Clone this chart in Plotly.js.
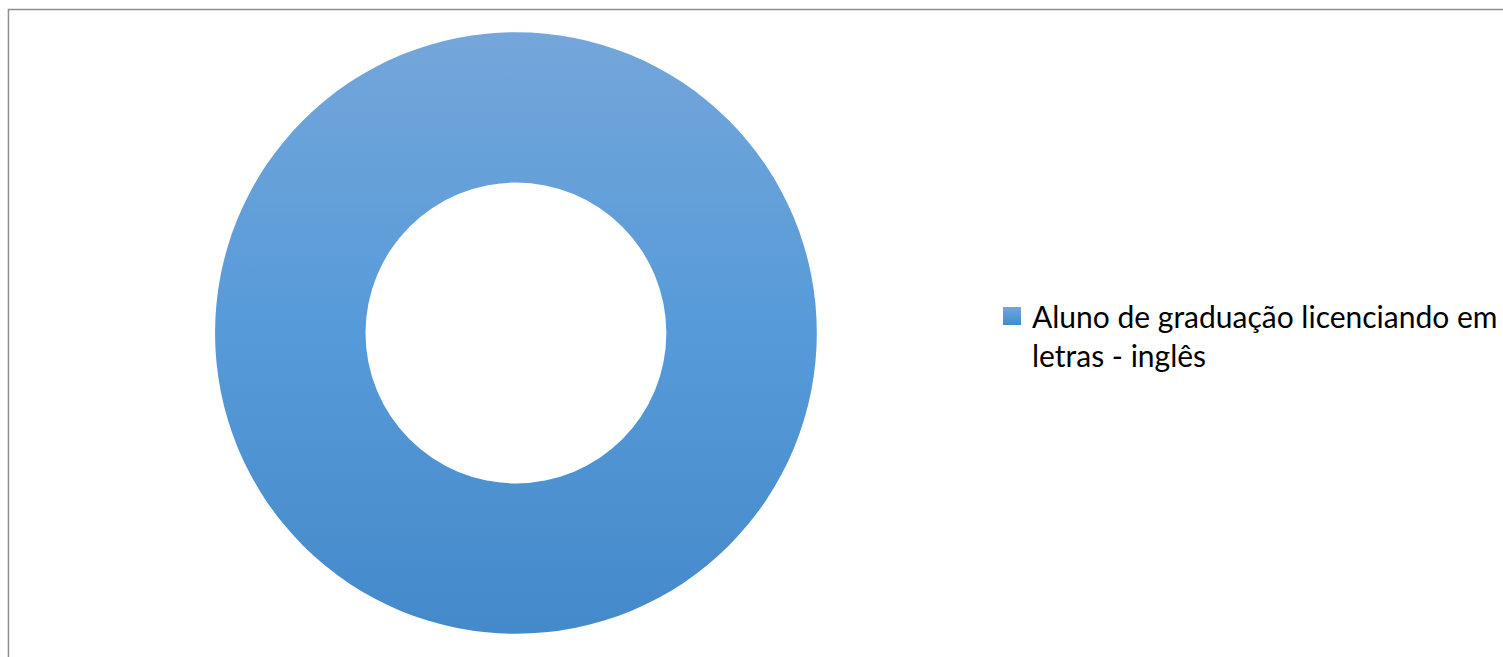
<!DOCTYPE html>
<html>
<head>
<meta charset="utf-8">
<script src="https://cdn.plot.ly/plotly-3.0.1.min.js"></script>
<style>
html,body{margin:0;padding:0;background:#fff;}
#chart{width:1503px;height:657px;}
</style>
</head>
<body>
<div id="chart"></div>
<script>
const categories = ['Aluno de graduação licenciando em<br>letras - inglês'];
const seriesValues = [100];

const W = 1503, H = 657;
const cx = 518, cy = 333, R = 302;

const trace = {
  type: 'pie',
  labels: categories,
  values: seriesValues,
  hole: 0.5,
  sort: false,
  direction: 'clockwise',
  textinfo: 'none',
  hoverinfo: 'none',
  marker: {colors: ['#5A9BD5'], line: {width: 0}},
  domain: {x: [(cx - R) / W, (cx + R) / W], y: [1 - (cy + R) / H, 1 - (cy - R) / H]},
  showlegend: true
};

const layout = {
  width: W, height: H,
  margin: {l: 0, r: 0, t: 0, b: 0},
  paper_bgcolor: '#ffffff',
  plot_bgcolor: '#ffffff',
  showlegend: true,
  legend: {
    x: 996 / W, xanchor: 'left',
    y: 1 - 290 / H, yanchor: 'top',
    valign: 'top',
    font: {family: 'Lato, "Open Sans", sans-serif', size: 30, color: '#000000'},
    bgcolor: 'rgba(0,0,0,0)',
    borderwidth: 0
  },
  shapes: [{
    type: 'rect', xref: 'paper', yref: 'paper',
    x0: 8.5 / W, x1: 1.02, y0: -0.02, y1: 1 - 9.5 / H,
    line: {color: '#8E8E8E', width: 1.5},
    fillcolor: 'rgba(0,0,0,0)', layer: 'below'
  }]
};

Plotly.newPlot('chart', [trace], layout, {displayModeBar: false, staticPlot: true}).then(function () {
  const svgNS = 'http://www.w3.org/2000/svg';
  const svg = document.querySelector('#chart .main-svg');
  let defs = svg.querySelector('defs');
  if (!defs) { defs = document.createElementNS(svgNS, 'defs'); svg.insertBefore(defs, svg.firstChild); }
  const grad = document.createElementNS(svgNS, 'linearGradient');
  grad.setAttribute('id', 'ringGrad');
  grad.setAttribute('x1', '0'); grad.setAttribute('y1', '0');
  grad.setAttribute('x2', '0'); grad.setAttribute('y2', '1');
  [['0', '#74A6DA'], ['0.5', '#569AD9'], ['1', '#4489C9']].forEach(function (s) {
    const st = document.createElementNS(svgNS, 'stop');
    st.setAttribute('offset', s[0]);
    st.setAttribute('stop-color', s[1]);
    grad.appendChild(st);
  });
  defs.appendChild(grad);
  document.querySelectorAll('#chart .slice path.surface').forEach(function (p) {
    p.style.fill = 'url(#ringGrad)';
  });
  document.querySelectorAll('#chart .legendpoints path').forEach(function (p) {
    p.setAttribute('d', 'M9,9H-9V-9H9Z');
    p.style.fill = 'url(#ringGrad)';
    p.style.strokeWidth = '0';
  });
});
</script>
</body>
</html>
